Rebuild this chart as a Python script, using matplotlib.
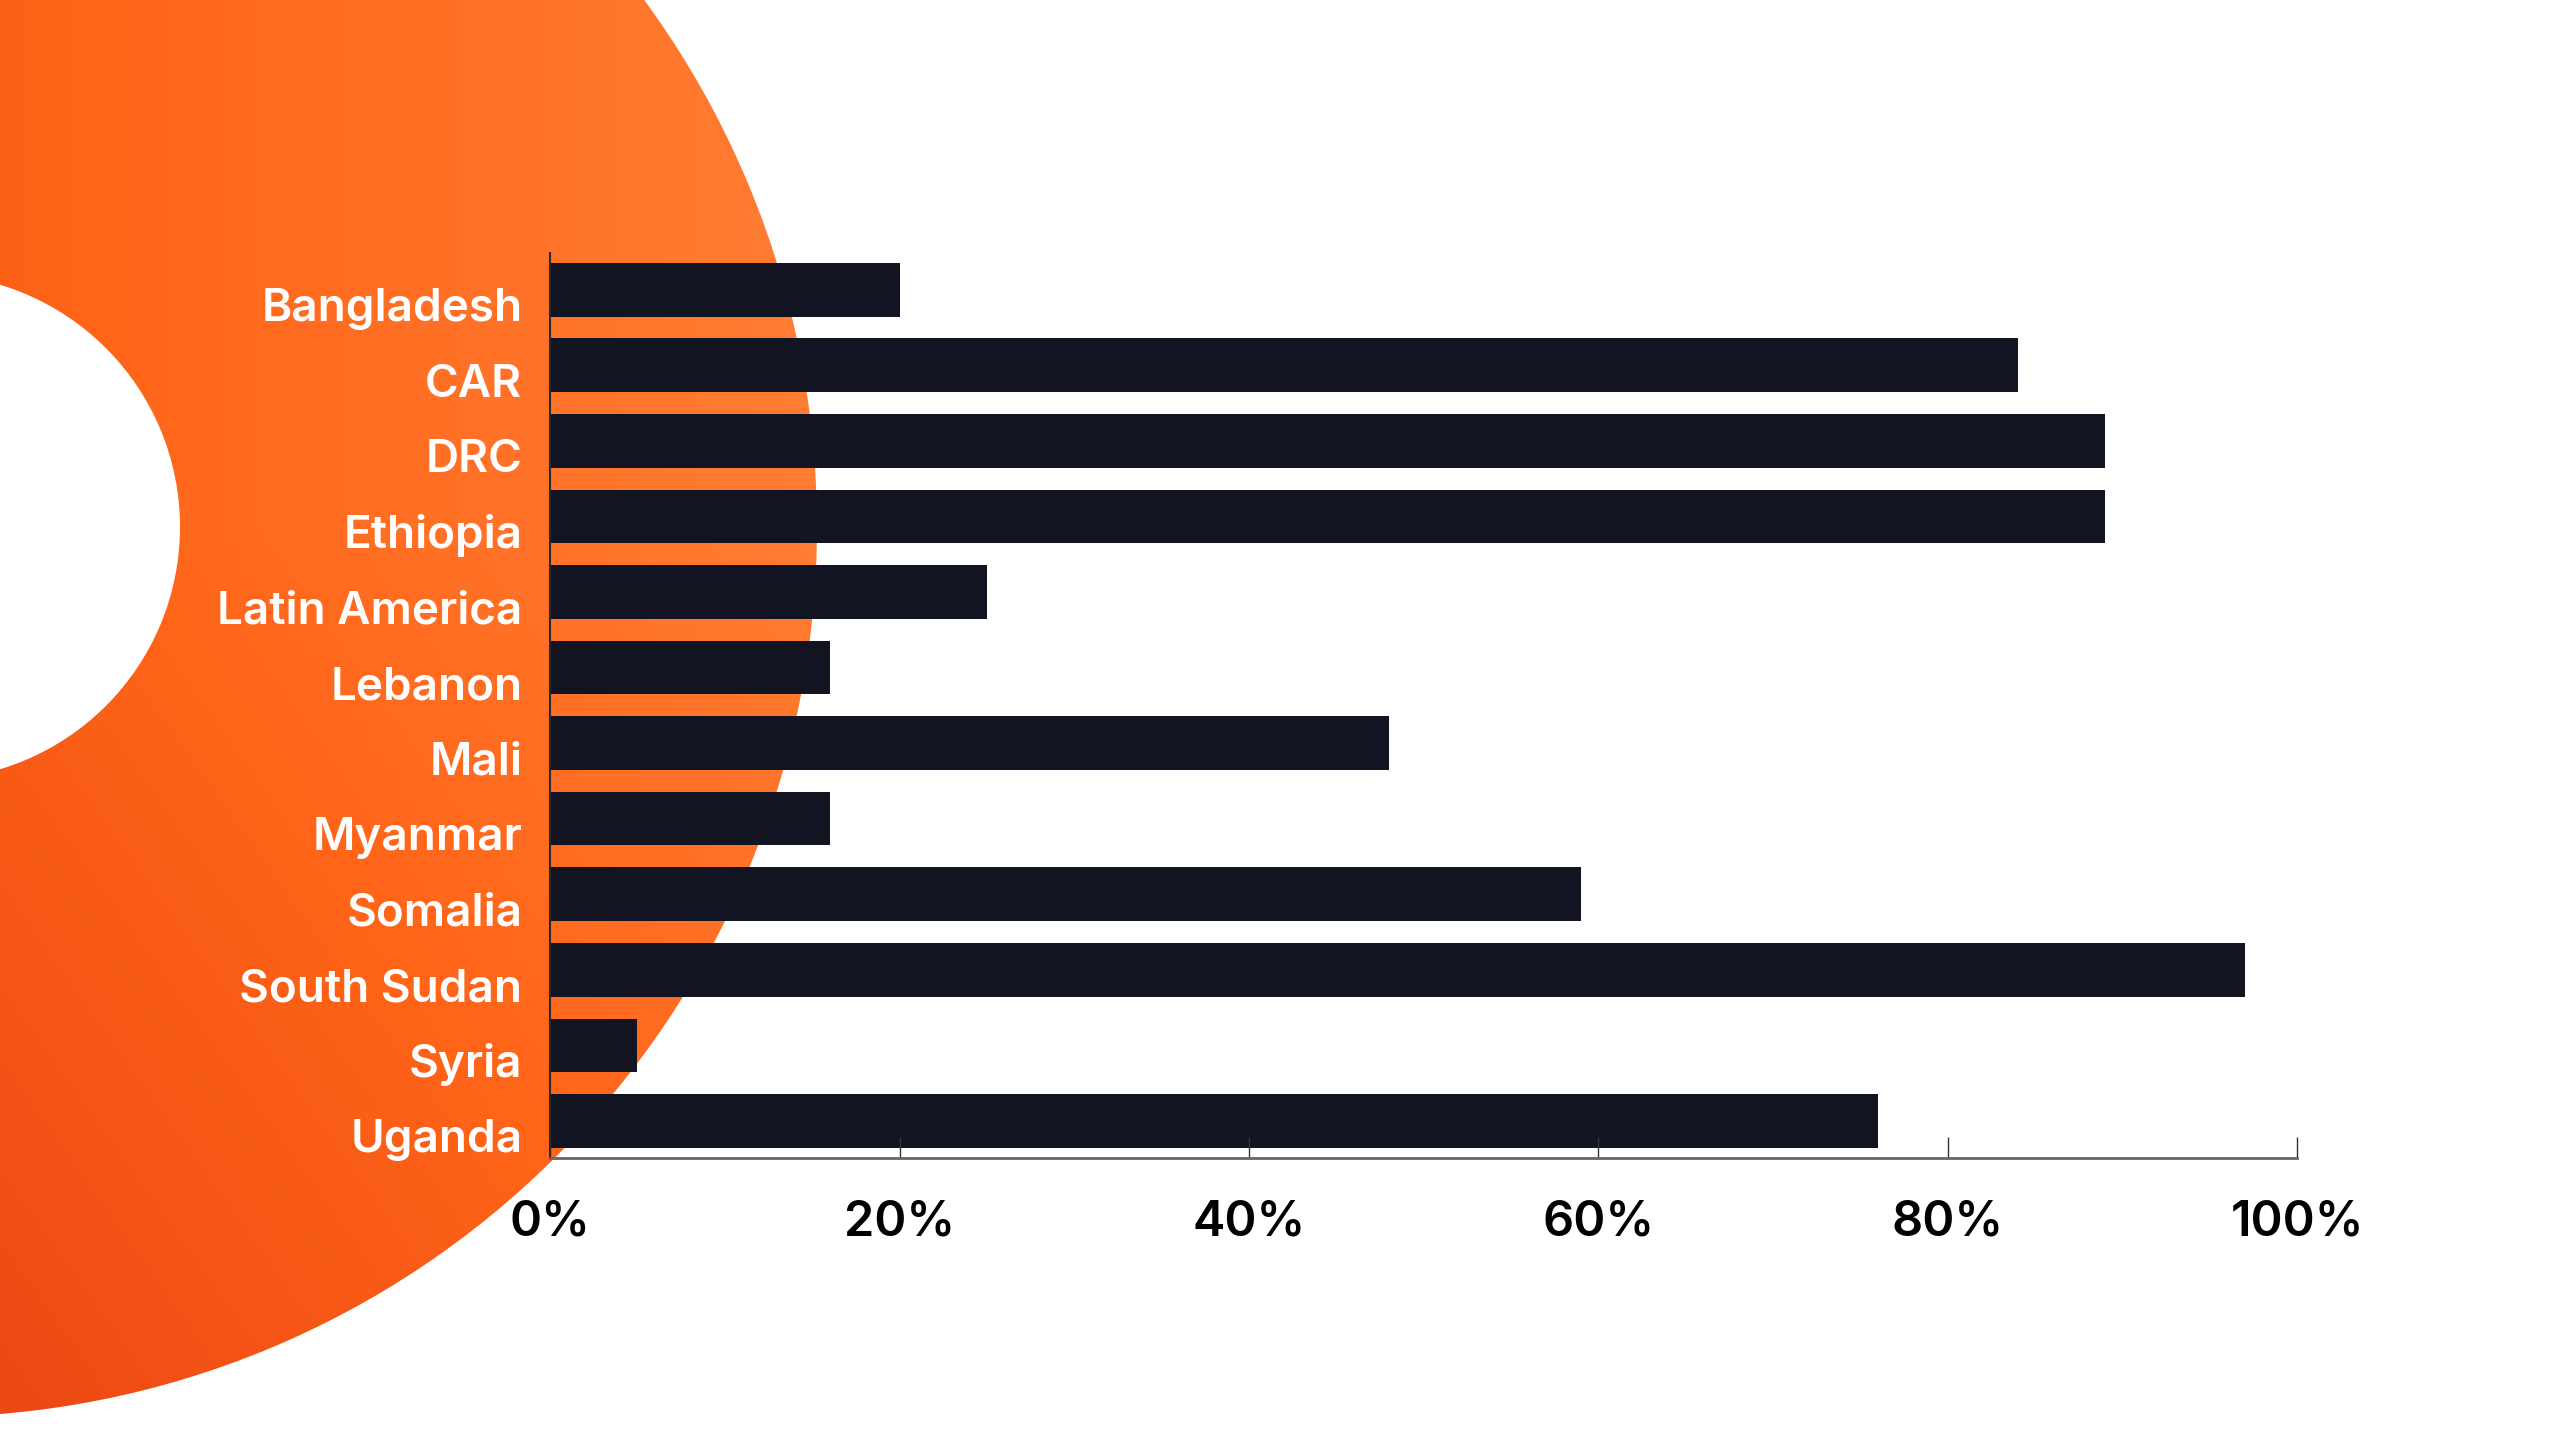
import matplotlib
matplotlib.use("Agg")
import matplotlib.pyplot as plt
import numpy as np
from matplotlib.patches import Wedge
from matplotlib.colors import LinearSegmentedColormap
from matplotlib.transforms import ScaledTranslation

countries = ['Bangladesh', 'CAR', 'DRC', 'Ethiopia', 'Latin America', 'Lebanon',
             'Mali', 'Myanmar', 'Somalia', 'South Sudan', 'Syria', 'Uganda']
shares = [0.20, 0.84, 0.89, 0.89, 0.25, 0.16, 0.48, 0.16, 0.59, 0.97, 0.05, 0.76]
xticks = [0, 0.2, 0.4, 0.6, 0.8, 1.0]
xtick_labels = ['0%', '20%', '40%', '60%', '80%', '100%']

plt.rcParams['font.family'] = ['Inter', 'DejaVu Sans']

fig = plt.figure(figsize=(25.6, 14.4), dpi=100)
fig.patch.set_facecolor('white')

# orange ring in the background, in pixel coordinates
bg = fig.add_axes([0, 0, 1, 1])
bg.set_xlim(0, 2560)
bg.set_ylim(1440, 0)
bg.axis('off')

yy, xx = np.mgrid[0:1440:4, 0:2560:4]
t = 0.55 * (xx / 784.0) + 0.45 * (1 - np.clip(yy - 520, 0, None) / 900.0)
t = np.clip(t, 0, 1)
cmap = LinearSegmentedColormap.from_list('orng', ['#EC4814', '#FF6418', '#FF7C32'])
img = bg.imshow(t, cmap=cmap, extent=[0, 2560, 1440, 0], aspect='auto', vmin=0, vmax=1)
ring = Wedge((-73, 527), 890, 0, 360, width=890 - 253, transform=bg.transData)
img.set_clip_path(ring)

# bar chart
ax = fig.add_axes([0.2149, 0.1961, 0.8973 - 0.2149, 0.8243 - 0.1961])
ax.patch.set_alpha(0)
ypos = np.arange(len(countries))
ax.barh(ypos, shares, height=0.71, color='#131422')
ax.set_ylim(len(countries) - 1 + 0.486, -0.486)
ax.set_xlim(0, 1)

ax.set_yticks(ypos)
ax.set_yticklabels(countries, color='white', fontsize=33, fontweight='semibold')
ax.tick_params(axis='y', length=0, pad=20)
# labels sit a bit lower than the bar centres
shift = ScaledTranslation(0, -15 / 100, fig.dpi_scale_trans)
for lab in ax.get_yticklabels():
    lab.set_transform(lab.get_transform() + shift)

ax.set_xticks(xticks)
ax.set_xticklabels(xtick_labels, color='black', fontsize=35, fontweight='semibold')
ax.tick_params(axis='x', direction='in', length=15, width=1, color='#333333', pad=30)

for s in ['top', 'right']:
    ax.spines[s].set_visible(False)
ax.spines['left'].set_color('#2a2a2a')
ax.spines['left'].set_linewidth(1.5)
ax.spines['bottom'].set_color('#666666')
ax.spines['bottom'].set_linewidth(2)

fig.savefig('out.png', dpi=100)
